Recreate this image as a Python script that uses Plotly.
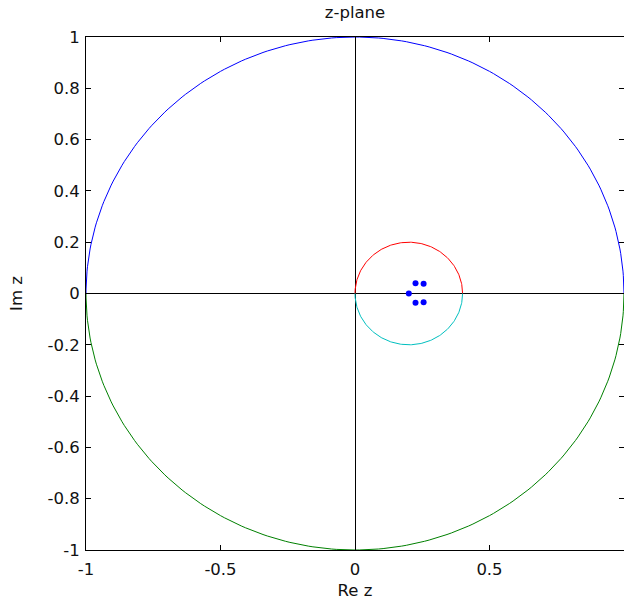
import numpy as np
import plotly.graph_objects as go

# Circle geometry: center on the real axis and radius
unit_center, unit_radius = 0.0, 1.0
small_center, small_radius = 0.2, 0.2
upper_colors = {"unit": "#0000ff", "small": "#ff0000"}
lower_colors = {"unit": "#008000", "small": "#00bfbf"}

# Pole locations
pole_re = [0.20, 0.225, 0.255, 0.225, 0.255]
pole_im = [0.0, 0.040, 0.038, -0.036, -0.034]

x_ticks = [-1, -0.5, 0, 0.5, 1]
x_tick_text = ["-1", "-0.5", "0", "0.5", "1"]
y_ticks = [-1, -0.8, -0.6, -0.4, -0.2, 0, 0.2, 0.4, 0.6, 0.8, 1]
y_tick_text = ["-1", "-0.8", "-0.6", "-0.4", "-0.2", "0", "0.2", "0.4", "0.6", "0.8", "1"]


def half_circle(c, r, upper):
    t = np.linspace(0, np.pi, 181)
    if not upper:
        t = -t
    return c + r * np.cos(t), r * np.sin(t)


fig = go.Figure()
for name, c, r in [("unit", unit_center, unit_radius), ("small", small_center, small_radius)]:
    xu, yu = half_circle(c, r, True)
    xl, yl = half_circle(c, r, False)
    fig.add_trace(go.Scatter(x=xu, y=yu, mode="lines",
                             line=dict(color=upper_colors[name], width=1)))
    fig.add_trace(go.Scatter(x=xl, y=yl, mode="lines",
                             line=dict(color=lower_colors[name], width=1)))

fig.add_trace(go.Scatter(x=pole_re, y=pole_im, mode="markers",
                         marker=dict(color="#0000ff", size=6)))

family = "DejaVu Sans, sans-serif"
font = dict(family=family, size=16.5, color="#111111")
label_font = dict(family=family, size=16.5, color="#111111")
axis_common = dict(
    showgrid=False, zeroline=True, zerolinecolor="#000000", zerolinewidth=1,
    showline=True, linecolor="#000000", linewidth=1, mirror="ticks",
    ticks="inside", ticklen=5, tickcolor="#000000", tickfont=font,
)

fig.update_layout(
    width=624, height=607,
    margin=dict(l=86, r=0, t=37, b=57),
    paper_bgcolor="#ffffff", plot_bgcolor="#ffffff",
    showlegend=False,
    title=dict(text="z-plane", xref="paper", x=0.5, xanchor="center",
               yref="container", y=0.98, yanchor="middle", font=label_font),
    xaxis=dict(range=[-1, 1], tickvals=x_ticks, ticktext=x_tick_text,
               ticklabelstandoff=4,
               title=dict(text="Re z", font=label_font, standoff=6), **axis_common),
    yaxis=dict(range=[-1, 1], tickvals=y_ticks, ticktext=y_tick_text,
               ticklabelstandoff=2,
               title=dict(text="Im z", font=label_font, standoff=20), **axis_common),
)

fig.write_html("out.html")
